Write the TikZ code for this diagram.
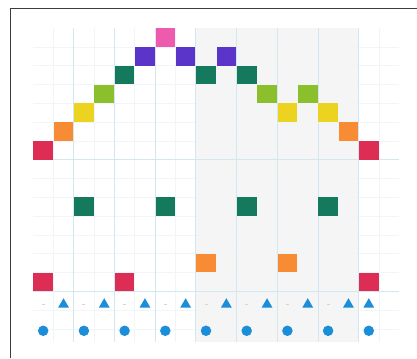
\documentclass[tikz,border=0pt]{standalone}
\usepackage{tikz}
\usetikzlibrary{shapes.geometric}
\definecolor{redT}{HTML}{DE2D55}
\definecolor{orangeT}{HTML}{F78C35}
\definecolor{yellowT}{HTML}{EBD31F}
\definecolor{greenT}{HTML}{8BBF2C}
\definecolor{tealT}{HTML}{157A5D}
\definecolor{purpleT}{HTML}{5B35C9}
\definecolor{pinkT}{HTML}{EE5AAE}
\definecolor{dotblue}{HTML}{1C8DD8}
\definecolor{gridblue}{HTML}{D3E7EF}
\definecolor{gridfaint}{HTML}{F0F5F7}
\definecolor{shadegrey}{HTML}{F5F5F5}
\definecolor{dashpale}{HTML}{F3CDB4}
\definecolor{framegrey}{HTML}{3C3C3C}

\begin{document}
\begin{tikzpicture}[x=20.35pt, y=-18.8pt,
  cell/.style={rectangle, minimum width=19.6pt, minimum height=18.6pt, inner sep=0pt, draw=none},
  dot/.style={circle, fill=dotblue, minimum size=10.5pt, inner sep=0pt},
  tri/.style={regular polygon, regular polygon sides=3, fill=dotblue, minimum size=12.5pt, inner sep=0pt},
  tick/.style={rectangle, fill=dashpale, minimum width=3pt, minimum height=1.2pt, inner sep=0pt},
]
\useasboundingbox (-2.123,-1.995) rectangle (18.369,17.048);

% background
\fill[shadegrey] (7.5,-0.5) rectangle (15.5,16.2);
\foreach \r in {0.5,1.5,...,15.5}
  \draw[gridfaint, line width=0.6pt] (-0.5,\r) -- (17.5,\r);
\foreach \c in {0.5,2.5,...,16.5}
  \draw[gridfaint, line width=0.6pt] (\c,-0.5) -- (\c,16.2);
\foreach \c in {1.5,3.5,...,15.5}
  \draw[gridblue, line width=0.8pt] (\c,-0.5) -- (\c,16.2);
\draw[gridblue, line width=0.8pt] (-0.5,6.5) -- (17.5,6.5);
\draw[gridblue, line width=0.6pt] (-0.5,13.5) -- (17.5,13.5);

% frame
\draw[framegrey, line width=1.3pt] (-1.607,17.048) -- (-1.607,-1.543) -- (18.369,-1.543);

% top curve
\node[cell, fill=redT] (t0) at (0,6) {};
\node[cell, fill=orangeT] (t1) at (1,5) {};
\node[cell, fill=yellowT] (t2) at (2,4) {};
\node[cell, fill=greenT] (t3) at (3,3) {};
\node[cell, fill=tealT] (t4) at (4,2) {};
\node[cell, fill=purpleT] (t5) at (5,1) {};
\node[cell, fill=pinkT] (t6) at (6,0) {};
\node[cell, fill=purpleT] (t7) at (7,1) {};
\node[cell, fill=tealT] (t8) at (8,2) {};
\node[cell, fill=purpleT] (t9) at (9,1) {};
\node[cell, fill=tealT] (t10) at (10,2) {};
\node[cell, fill=greenT] (t11) at (11,3) {};
\node[cell, fill=yellowT] (t12) at (12,4) {};
\node[cell, fill=greenT] (t13) at (13,3) {};
\node[cell, fill=yellowT] (t14) at (14,4) {};
\node[cell, fill=orangeT] (t15) at (15,5) {};
\node[cell, fill=redT] (t16) at (16,6) {};

% lower rows
\node[cell, fill=tealT] (m2) at (2,9) {};
\node[cell, fill=tealT] (m6) at (6,9) {};
\node[cell, fill=tealT] (m10) at (10,9) {};
\node[cell, fill=tealT] (m14) at (14,9) {};
\node[cell, fill=orangeT] (o8) at (8,12) {};
\node[cell, fill=orangeT] (o12) at (12,12) {};
\node[cell, fill=redT] (r0) at (0,13) {};
\node[cell, fill=redT] (r4) at (4,13) {};
\node[cell, fill=redT] (r16) at (16,13) {};

% ticks and triangles
\node[tick] (k0) at (0,14.2) {};
\node[tri] (a1) at (1,14.2) {};
\node[tick] (k2) at (2,14.2) {};
\node[tri] (a3) at (3,14.2) {};
\node[tick] (k4) at (4,14.2) {};
\node[tri] (a5) at (5,14.2) {};
\node[tick] (k6) at (6,14.2) {};
\node[tri] (a7) at (7,14.2) {};
\node[tick] (k8) at (8,14.2) {};
\node[tri] (a9) at (9,14.2) {};
\node[tick] (k10) at (10,14.2) {};
\node[tri] (a11) at (11,14.2) {};
\node[tick] (k12) at (12,14.2) {};
\node[tri] (a13) at (13,14.2) {};
\node[tick] (k14) at (14,14.2) {};
\node[tri] (a15) at (15,14.2) {};
\node[tri] (a16) at (16,14.2) {};

% dots
\node[dot] (d0) at (0,15.6) {};
\node[dot] (d2) at (2,15.6) {};
\node[dot] (d4) at (4,15.6) {};
\node[dot] (d6) at (6,15.6) {};
\node[dot] (d8) at (8,15.6) {};
\node[dot] (d10) at (10,15.6) {};
\node[dot] (d12) at (12,15.6) {};
\node[dot] (d14) at (14,15.6) {};
\node[dot] (d16) at (16,15.6) {};
\end{tikzpicture}
\end{document}
